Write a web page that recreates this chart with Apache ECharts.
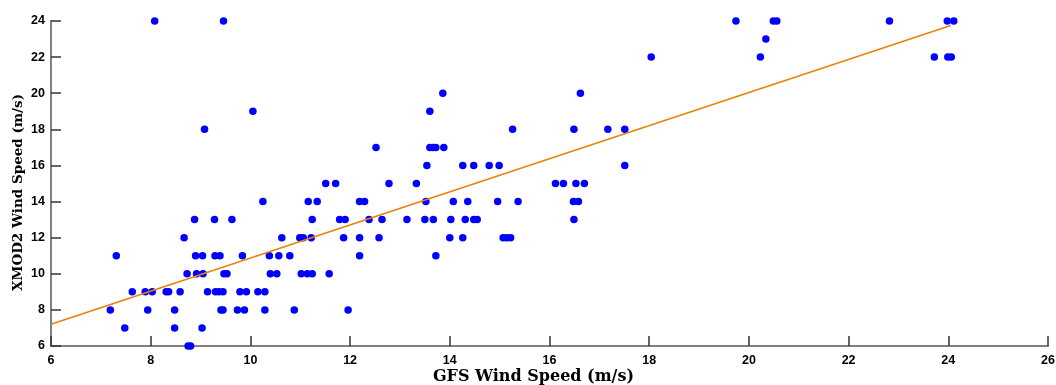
<!DOCTYPE html>
<html>
<head>
<meta charset="utf-8">
<script src="https://cdn.jsdelivr.net/npm/echarts@6/dist/echarts.min.js"></script>
<style>
html,body{margin:0;padding:0;background:#fff;}
#chart{width:1056px;height:385px;}
</style>
</head>
<body>
<div id="chart"></div>
<script>
// GFS wind speed (x) for each XMOD2 wind speed level (y)
const gfsAt24 = [8.08, 9.46, 19.74, 20.49, 20.56, 22.82, 23.98, 24.11];
const gfsAt23 = [20.34];
const gfsAt22 = [18.04, 20.23, 23.72, 23.99, 24.06];
const gfsAt20 = [13.86, 16.62];
const gfsAt19 = [10.05, 13.60];
const gfsAt18 = [9.08, 15.26, 16.49, 17.17, 17.51];
const gfsAt17 = [12.52, 13.60, 13.66, 13.72, 13.88];
const gfsAt16 = [13.54, 14.26, 14.48, 14.79, 14.99, 17.51];
const gfsAt15 = [11.51, 11.71, 12.78, 13.33, 16.12, 16.28, 16.53, 16.70];
const gfsAt14 = [10.25, 11.16, 11.34, 12.19, 12.29, 13.52, 14.07, 14.36, 14.96, 15.37, 16.48, 16.58];
const gfsAt13 = [8.88, 9.28, 9.63, 11.24, 11.79, 11.90, 12.38, 12.64, 13.14, 13.50, 13.67, 14.02, 14.31, 14.48, 14.55, 16.49];
const gfsAt12 = [8.67, 10.63, 10.99, 11.06, 11.22, 11.87, 12.19, 12.58, 14.00, 14.26, 15.07, 15.14, 15.22];
const gfsAt11 = [7.31, 8.90, 9.04, 9.29, 9.39, 9.84, 10.38, 10.57, 10.79, 12.19, 13.72];
const gfsAt10 = [8.73, 8.92, 9.05, 9.47, 9.53, 10.40, 10.53, 11.02, 11.14, 11.24, 11.58];
const gfsAt9  = [7.63, 7.89, 8.03, 8.31, 8.36, 8.59, 9.14, 9.30, 9.37, 9.45, 9.79, 9.92, 10.15, 10.29];
const gfsAt8  = [7.19, 7.94, 8.48, 9.41, 9.45, 9.74, 9.88, 10.29, 10.88, 11.96];
const gfsAt7  = [7.48, 8.48, 9.03];
const gfsAt6  = [8.75, 8.80];

const xmodLevels = [24, 23, 22, 20, 19, 18, 17, 16, 15, 14, 13, 12, 11, 10, 9, 8, 7, 6];
const gfsByLevel = [gfsAt24, gfsAt23, gfsAt22, gfsAt20, gfsAt19, gfsAt18, gfsAt17, gfsAt16, gfsAt15,
                    gfsAt14, gfsAt13, gfsAt12, gfsAt11, gfsAt10, gfsAt9, gfsAt8, gfsAt7, gfsAt6];

// Fitted trend line end points
const trendX = [6, 24.05];
const trendY = [7.2, 23.75];

const xTitle = 'GFS Wind Speed (m/s)';
const yTitle = 'XMOD2 Wind Speed (m/s)';

const points = [];
xmodLevels.forEach((y, i) => gfsByLevel[i].forEach(x => points.push([x, y])));
const trend = trendX.map((x, i) => [x, trendY[i]]);

const chart = echarts.init(document.getElementById('chart'), null, {renderer: 'canvas'});
const tickFont = {fontFamily: 'Liberation Sans, Arial, sans-serif', fontWeight: 'bold', fontSize: 12.5, color: '#000'};
const titleFontX = {fontFamily: 'DejaVu Serif, serif', fontWeight: 'bold', fontSize: 16, color: '#000'};
const titleFontY = {fontFamily: 'DejaVu Serif, serif', fontWeight: 'bold', fontSize: 13.5, color: '#000'};
chart.setOption({
  animation: false,
  backgroundColor: '#fff',
  grid: {left: 51, right: 8, top: 21, bottom: 39, containLabel: false, outerBoundsMode: 'none'},
  xAxis: {
    type: 'value', min: 6, max: 26, interval: 2,
    name: xTitle, nameLocation: 'middle', nameGap: 23, nameMoveOverlap: false,
    nameTextStyle: Object.assign({padding: [0, 32, 0, 0]}, titleFontX),
    axisLine: {show: true, onZero: false, lineStyle: {color: '#808080', width: 2}},
    axisTick: {show: true, inside: true, length: 10, lineStyle: {color: '#333', width: 1.5}},
    axisLabel: Object.assign({margin: 8}, tickFont),
    splitLine: {show: false}
  },
  yAxis: {
    type: 'value', min: 6, max: 24, interval: 2,
    name: yTitle, nameLocation: 'middle', nameGap: 26, nameMoveOverlap: false,
    nameTextStyle: Object.assign({padding: [0, 18, 0, 0]}, titleFontY),
    axisLine: {show: true, onZero: false, lineStyle: {color: '#808080', width: 2}},
    axisTick: {show: true, inside: true, length: 10, lineStyle: {color: '#333', width: 1.5}},
    axisLabel: Object.assign({margin: 6}, tickFont),
    splitLine: {show: false}
  },
  series: [
    {
      type: 'scatter', data: points, symbol: 'circle', symbolSize: 7.5,
      itemStyle: {color: '#0000FF', opacity: 1}, z: 2
    },
    {
      type: 'line', data: trend, symbol: 'none', z: 3,
      lineStyle: {color: '#E6820E', width: 1.6}
    }
  ]
});
</script>
</body>
</html>
